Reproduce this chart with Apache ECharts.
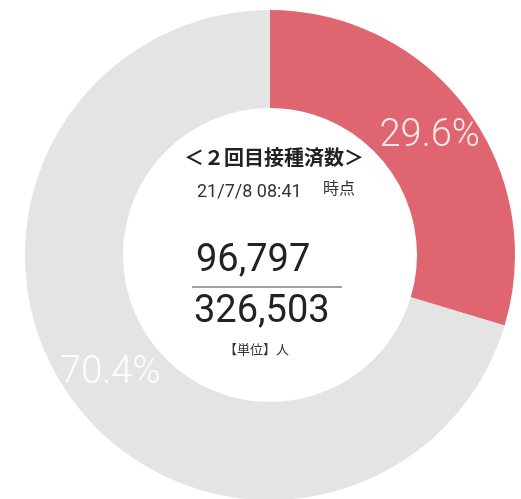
<!DOCTYPE html>
<html><head><meta charset="utf-8">
<script src="https://cdn.jsdelivr.net/npm/echarts@6/dist/echarts.min.js"></script>
<style>html,body{margin:0;padding:0;background:#fff}#c{width:521px;height:499px}</style>
</head><body><div id="c"></div>
<script>
const categories = ['2回目接種済', '未接種'];
const vaccinated = 96797;
const total = 326503;
const values = [vaccinated, total - vaccinated];
const titleText = '＜２回目接種済数＞';
const dateText = '21/7/8 08:41';
const asOfText = '時点';
const unitText = '【単位】人';

const fmt = n => n.toLocaleString('en-US');
const chart = echarts.init(document.getElementById('c'));
const jp = '"Noto Sans CJK JP", sans-serif';
const num = 'Roboto, "Noto Sans", sans-serif';
chart.setOption({
  animation: false,
  series: [{
    type: 'pie',
    center: [270, 255],
    radius: [147, 245],
    startAngle: 90,
    clockwise: true,
    silent: true,
    data: categories.map((c, i) => ({
      name: c, value: values[i],
      itemStyle: { color: i === 0 ? '#df6670' : '#e4e4e4' },
      label: { color: i === 0 ? 'rgba(255,255,255,0.85)' : 'rgba(255,255,255,0.9)' }
    })),
    label: {
      show: true, position: 'inside',
      formatter: p => (p.value / total * 100).toFixed(1) + '%',
      fontFamily: num, fontWeight: 300, fontSize: 38,
      padding: [10, 0, 0, 0]
    },
    labelLine: { show: false }
  }],
  graphic: [
    { type: 'text', left: 184, top: 147, style: { text: titleText, font: 'bold 20px ' + jp, fill: '#222' } },
    { type: 'text', left: 197, top: 183, style: { text: dateText, font: '18px ' + num, fill: '#333' } },
    { type: 'text', left: 323, top: 180, style: { text: asOfText, font: '16px ' + jp, fill: '#333' } },
    { type: 'text', left: 196, top: 242, style: { text: fmt(vaccinated), font: '38px ' + num, fill: '#222' } },
    { type: 'line', shape: { x1: 192, y1: 287, x2: 342, y2: 287 }, style: { stroke: '#a0a0a0', lineWidth: 2 } },
    { type: 'text', left: 194, top: 293, style: { text: fmt(total), font: '38px ' + num, fill: '#222' } },
    { type: 'text', left: 224, top: 343, style: { text: unitText, font: '13px ' + jp, fill: '#333' } }
  ]
});
</script></body></html>
